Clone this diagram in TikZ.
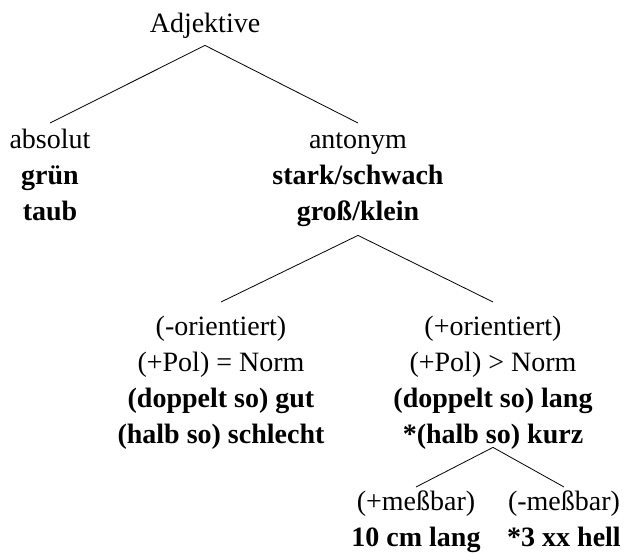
\documentclass[tikz,border=0pt]{standalone}
\usepackage{fontspec}
\setmainfont{Liberation Serif}
\begin{document}
\begin{tikzpicture}[x=1pt,y=-1pt,
  lbl/.style={anchor=north,inner sep=0pt,align=center,
    font=\fontsize{28}{36}\selectfont},
  branch/.style={line width=0.8pt}]
\useasboundingbox (0,0) rectangle (627,553);

% classification tree of adjectives
\node[lbl] (adj) at (205,7) {\strut Adjektive};

\node[lbl] (abs) at (50,123) {\strut absolut\\
  \strut\textbf{grün}\\
  \strut\textbf{taub}};
\node[lbl] (ant) at (358,123) {\strut antonym\\
  \strut\textbf{stark/schwach}\\
  \strut\textbf{groß/klein}};

\node[lbl] (neg) at (221,310) {\strut (-orientiert)\\
  \strut (+Pol) = Norm\\
  \strut\textbf{(doppelt so) gut}\\
  \strut\textbf{(halb so) schlecht}};
\node[lbl] (pos) at (493,310) {\strut (+orientiert)\\
  \strut (+Pol) > Norm\\
  \strut\textbf{(doppelt so) lang}\\
  \strut\textbf{*(halb so) kurz}};

\node[lbl] (mess) at (416,485) {\strut (+meßbar)\\
  \strut\textbf{10 cm lang}};
\node[lbl] (nmess) at (564,485) {\strut (-meßbar)\\
  \strut\textbf{*3 xx hell}};

% branches
\draw[branch] ([yshift=-2pt]adj.south) -- (abs.north);
\draw[branch] ([yshift=-2pt]adj.south) -- (ant.north);
\draw[branch] ([yshift=-4pt]ant.south) -- ([yshift=8pt]neg.north);
\draw[branch] ([yshift=-4pt]ant.south) -- ([yshift=8pt]pos.north);
\draw[branch] ([yshift=7pt]pos.south) -- ([yshift=-2pt]mess.north);
\draw[branch] ([yshift=7pt]pos.south) -- ([yshift=-2pt]nmess.north);
\end{tikzpicture}
\end{document}
